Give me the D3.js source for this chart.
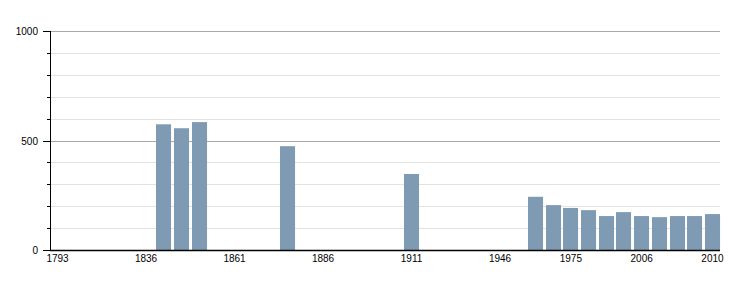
<!DOCTYPE html>
<html>
<head>
<meta charset="utf-8">
<script src="https://cdn.jsdelivr.net/npm/d3@7"></script>
<style>
  body { margin: 0; background: #fff; }
  svg { display: block; font-family: "Liberation Sans", Arial, sans-serif; }
</style>
</head>
<body>
<div id="chart"></div>
<script>
// census years (one slot each), population per year (null = no data)
const years = [1793, 1800, 1806, 1821, 1831, 1836, 1841, 1846, 1851, 1856,
               1861, 1866, 1872, 1876, 1881, 1886, 1891, 1896, 1901, 1906,
               1911, 1921, 1926, 1931, 1936, 1946, 1954, 1962, 1968, 1975,
               1982, 1990, 1999, 2006, 2007, 2008, 2009, 2010]
const population = [null, null, null, null, null, null, 574, 556, 584, null,
                    null, null, null, 474, null, null, null, null, null, null,
                    347, null, null, null, null, null, null, 243, 205, 192,
                    182, 155, 173, 155, 150, 155, 155, 164]
const tickYears = [1793, 1836, 1861, 1886, 1911, 1946, 1975, 2006, 2010]
const yMax = 1000

const width = 750, height = 300
const margin = { left: 50, right: 30, top: 31, bottom: 50 }

const svg = d3.select("#chart").append("svg")
    .attr("width", width)
    .attr("height", height)

const x = d3.scaleBand()
    .domain(years)
    .range([margin.left, width - margin.right])
    .paddingInner(0.15)
    .paddingOuter(0)

const y = d3.scaleLinear()
    .domain([0, yMax])
    .range([height - margin.bottom, margin.top])

// horizontal gridlines: light every 100, darker every 500
const gridVals = d3.range(100, yMax + 1, 100)
svg.append("g").selectAll("line")
    .data(gridVals)
    .join("line")
    .attr("x1", margin.left)
    .attr("x2", width - margin.right)
    .attr("y1", d => Math.round(y(d)) + 0.5)
    .attr("y2", d => Math.round(y(d)) + 0.5)
    .attr("stroke", d => d % 500 === 0 ? "#a8a8a8" : "#e2e2e2")
    .attr("stroke-width", 1)

// bars
const data = years.map((yr, i) => ({ year: yr, value: population[i] }))
    .filter(d => d.value != null)

svg.append("g").selectAll("rect")
    .data(data)
    .join("rect")
    .attr("x", d => Math.round(x(d.year)))
    .attr("y", d => y(d.value))
    .attr("width", x.bandwidth())
    .attr("height", d => y(0) - y(d.value))
    .attr("fill", "#7f9ab3")

// y axis with long ticks at 500s, short ticks at 100s
const yAxis = svg.append("g")
yAxis.append("line")
    .attr("x1", margin.left + 0.5).attr("x2", margin.left + 0.5)
    .attr("y1", y(yMax)).attr("y2", y(0))
    .attr("stroke", "#000")
yAxis.selectAll(".tick")
    .data(d3.range(0, yMax + 1, 100))
    .join("line")
    .attr("x1", d => d % 500 === 0 ? margin.left - 7 : margin.left - 3)
    .attr("x2", margin.left)
    .attr("y1", d => Math.round(y(d)) + 0.5)
    .attr("y2", d => Math.round(y(d)) + 0.5)
    .attr("stroke", "#000")
yAxis.selectAll("text")
    .data([0, 500, 1000])
    .join("text")
    .attr("x", margin.left - 12)
    .attr("y", d => y(d) + 4)
    .attr("text-anchor", "end")
    .attr("font-size", 10)
    .attr("fill", "#000")
    .text(d => d)

// x axis
const xAxis = svg.append("g")
xAxis.append("line")
    .attr("x1", margin.left).attr("x2", width - margin.right)
    .attr("y1", y(0) + 0.5).attr("y2", y(0) + 0.5)
    .attr("stroke", "#000")
    .attr("stroke-width", 1.5)
xAxis.selectAll("text")
    .data(tickYears)
    .join("text")
    .attr("x", d => x(d) + x.bandwidth() / 2)
    .attr("y", y(0) + 12)
    .attr("text-anchor", "middle")
    .attr("font-size", 10)
    .attr("fill", "#000")
    .text(d => d)
</script>
</body>
</html>
